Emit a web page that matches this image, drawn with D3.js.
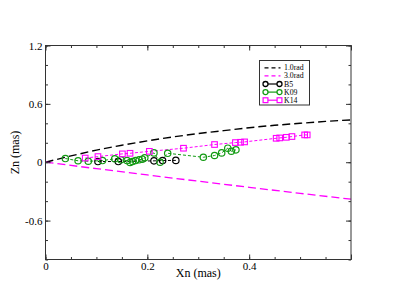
<!DOCTYPE html>
<html>
<head>
<meta charset="utf-8">
<script src="https://cdn.jsdelivr.net/npm/d3@7"></script>
<style>
  body { margin: 0; background: #fff; }
  text { font-family: "Liberation Serif", "DejaVu Serif", serif; fill: #000; }
</style>
</head>
<body>
<div id="chart"></div>
<script>
// model curves
var rad1X = [0, 0.05, 0.1, 0.15, 0.2, 0.25, 0.3, 0.35, 0.4, 0.45, 0.5, 0.55, 0.6];
var rad1Y = [0, 0.065, 0.125, 0.175, 0.22, 0.26, 0.295, 0.325, 0.355, 0.38, 0.4, 0.42, 0.435];
var rad3X = [0, 0.1, 0.2, 0.3, 0.4, 0.5, 0.6];
var rad3Y = [0, -0.066, -0.131, -0.195, -0.258, -0.32, -0.38];

// components
var b5X = [0.103, 0.143, 0.213, 0.23, 0.256];
var b5Y = [0.007, 0.007, 0.014, 0.017, 0.019];
var k09X = [0.039, 0.064, 0.084, 0.112, 0.136, 0.148, 0.16, 0.166, 0.171, 0.177, 0.184, 0.19, 0.195, 0.213, 0.225, 0.24, 0.31, 0.332, 0.346, 0.358, 0.365, 0.374];
var k09Y = [0.038, 0.015, 0.01, 0.017, 0.035, 0.025, 0.017, -0.003, 0.007, 0.017, 0.025, 0.031, 0.045, 0.096, 0.0, 0.092, 0.051, 0.069, 0.096, 0.144, 0.113, 0.127];
var k14X = [0.078, 0.103, 0.151, 0.166, 0.204, 0.271, 0.332, 0.373, 0.383, 0.391, 0.453, 0.46, 0.473, 0.484, 0.509, 0.514];
var k14Y = [0.043, 0.058, 0.086, 0.092, 0.112, 0.144, 0.182, 0.202, 0.205, 0.209, 0.246, 0.25, 0.256, 0.264, 0.281, 0.281];

var xMajor = [0, 0.2, 0.4, 0.6];
var xLabels = ["0", "0.2", "0.4", ""];
var yMajor = [-0.6, 0, 0.6, 1.2];
var yLabels = ["-0.6", "0", "0.6", "1.2"];

var legendNames = ["1.0rad", "3.0rad", "B5", "K09", "K14"];

var width = 395, height = 305;
var padL = 45.5, padR = 351, padT = 45.5, padB = 259.5;

var green = "#129a12", magenta = "#ff00ff", frame = "#333";

var x = d3.scaleLinear().domain([0, 0.6]).range([padL, padR]);
var y = d3.scaleLinear().domain([-1.0, 1.2]).range([padB, padT]);

var svg = d3.select("#chart").append("svg")
  .attr("width", width)
  .attr("height", height);

function zip(xs, ys) {
  return xs.map(function(v, i) { return [v, ys[i]]; });
}

var line = d3.line()
  .x(function(d) { return x(d[0]); })
  .y(function(d) { return y(d[1]); });

var plot = svg.append("g");

plot.append("path")
  .attr("d", line(zip(rad1X, rad1Y)))
  .attr("fill", "none").attr("stroke", "#000")
  .attr("stroke-width", 1.4).attr("stroke-dasharray", "8,4");

plot.append("path")
  .attr("d", line(zip(rad3X, rad3Y)))
  .attr("fill", "none").attr("stroke", magenta)
  .attr("stroke-width", 1.3).attr("stroke-dasharray", "8,4");

plot.append("path")
  .attr("d", line(zip(k09X, k09Y)))
  .attr("fill", "none").attr("stroke", green)
  .attr("stroke-width", 1).attr("stroke-dasharray", "3,2");

plot.append("path")
  .attr("d", line(zip(k14X, k14Y)))
  .attr("fill", "none").attr("stroke", magenta)
  .attr("stroke-width", 1).attr("stroke-dasharray", "3,2");

plot.append("path")
  .attr("d", line(zip(b5X, b5Y)))
  .attr("fill", "none").attr("stroke", "#000")
  .attr("stroke-width", 1).attr("stroke-dasharray", "3,2");

plot.selectAll(".b5").data(zip(b5X, b5Y)).enter().append("circle")
  .attr("cx", function(d) { return x(d[0]); })
  .attr("cy", function(d) { return y(d[1]); })
  .attr("r", 3.2).attr("fill", "none").attr("stroke", "#000").attr("stroke-width", 1.2);

plot.selectAll(".k09").data(zip(k09X, k09Y)).enter().append("circle")
  .attr("cx", function(d) { return x(d[0]); })
  .attr("cy", function(d) { return y(d[1]); })
  .attr("r", 3.2).attr("fill", "none").attr("stroke", green).attr("stroke-width", 1.2);

plot.selectAll(".k14").data(zip(k14X, k14Y)).enter().append("rect")
  .attr("x", function(d) { return x(d[0]) - 2.8; })
  .attr("y", function(d) { return y(d[1]) - 2.8; })
  .attr("width", 5.6).attr("height", 5.6)
  .attr("fill", "none").attr("stroke", magenta).attr("stroke-width", 1.1);

// frame + ticks (inward, all four sides)
var minorX = d3.range(0, 0.6001, 0.05);
var minorY = d3.range(-1.0, 1.2001, 0.2);

function styleAxis(g) {
  g.select(".domain").remove();
  g.selectAll(".tick line").attr("stroke", frame);
  g.selectAll("text").attr("font-size", 11).style("font-family", "Liberation Serif");
}

svg.append("g").attr("transform", "translate(0," + padB + ")")
  .call(d3.axisBottom(x).tickValues(xMajor).tickSize(-5).tickPadding(3)
    .tickFormat(function(d, i) { return xLabels[i]; }))
  .call(styleAxis);
svg.append("g").attr("transform", "translate(0," + padB + ")")
  .call(d3.axisBottom(x).tickValues(minorX).tickSize(-2.5).tickFormat(""))
  .call(styleAxis);
svg.append("g").attr("transform", "translate(0," + padT + ")")
  .call(d3.axisTop(x).tickValues(xMajor).tickSize(-5).tickFormat(""))
  .call(styleAxis);
svg.append("g").attr("transform", "translate(0," + padT + ")")
  .call(d3.axisTop(x).tickValues(minorX).tickSize(-2.5).tickFormat(""))
  .call(styleAxis);

svg.append("g").attr("transform", "translate(" + padL + ",0)")
  .call(d3.axisLeft(y).tickValues(yMajor).tickSize(-5).tickPadding(3)
    .tickFormat(function(d, i) { return yLabels[i]; }))
  .call(styleAxis);
svg.append("g").attr("transform", "translate(" + padL + ",0)")
  .call(d3.axisLeft(y).tickValues(minorY).tickSize(-2.5).tickFormat(""))
  .call(styleAxis);
svg.append("g").attr("transform", "translate(" + padR + ",0)")
  .call(d3.axisRight(y).tickValues(yMajor).tickSize(-5).tickFormat(""))
  .call(styleAxis);
svg.append("g").attr("transform", "translate(" + padR + ",0)")
  .call(d3.axisRight(y).tickValues(minorY).tickSize(-2.5).tickFormat(""))
  .call(styleAxis);

svg.append("rect")
  .attr("x", padL).attr("y", padT)
  .attr("width", padR - padL).attr("height", padB - padT)
  .attr("fill", "none").attr("stroke", frame).attr("stroke-width", 1);

// axis titles
svg.append("text")
  .attr("x", (padL + padR) / 2).attr("y", 277)
  .attr("text-anchor", "middle").attr("font-size", 12)
  .text("Xn (mas)");

svg.append("text")
  .attr("transform", "translate(19," + ((padT + padB) / 2) + ")rotate(-90)")
  .attr("text-anchor", "middle").attr("font-size", 12)
  .text("Zn (mas)");

// legend
var lg = svg.append("g").attr("transform", "translate(259.5,60.5)");
lg.append("rect").attr("width", 50).attr("height", 44.5)
  .attr("fill", "#fff").attr("stroke", frame).attr("stroke-width", 1);

var legendStyles = [
  {color: "#000", dash: "4,3", mark: null},
  {color: magenta, dash: "4,3", mark: null},
  {color: "#000", dash: null, mark: "circle"},
  {color: green, dash: null, mark: "circle"},
  {color: magenta, dash: null, mark: "square"}
];

legendNames.forEach(function(name, i) {
  var row = lg.append("g").attr("transform", "translate(0," + (7.3 + i * 8.1) + ")");
  var s = legendStyles[i];
  if (s.mark) {
    row.append("line").attr("x1", 6).attr("x2", 20).attr("y1", 0).attr("y2", 0)
      .attr("stroke", s.color).attr("stroke-width", 1.2);
    [6, 20].forEach(function(cx) {
      if (s.mark === "circle") {
        row.append("circle").attr("cx", cx).attr("cy", 0).attr("r", 2.5)
          .attr("fill", "#fff").attr("stroke", s.color).attr("stroke-width", 1.3);
      } else {
        row.append("rect").attr("x", cx - 2.4).attr("y", -2.4).attr("width", 4.8).attr("height", 4.8)
          .attr("fill", "#fff").attr("stroke", s.color).attr("stroke-width", 1.2);
      }
    });
  } else {
    row.append("line").attr("x1", 5).attr("x2", 21).attr("y1", 0).attr("y2", 0)
      .attr("stroke", s.color).attr("stroke-width", 1.3).attr("stroke-dasharray", s.dash);
  }
  row.append("text").attr("x", 24.5).attr("y", 0).attr("dy", "0.33em")
    .attr("font-size", 7.8).text(name);
});
</script>
</body>
</html>
